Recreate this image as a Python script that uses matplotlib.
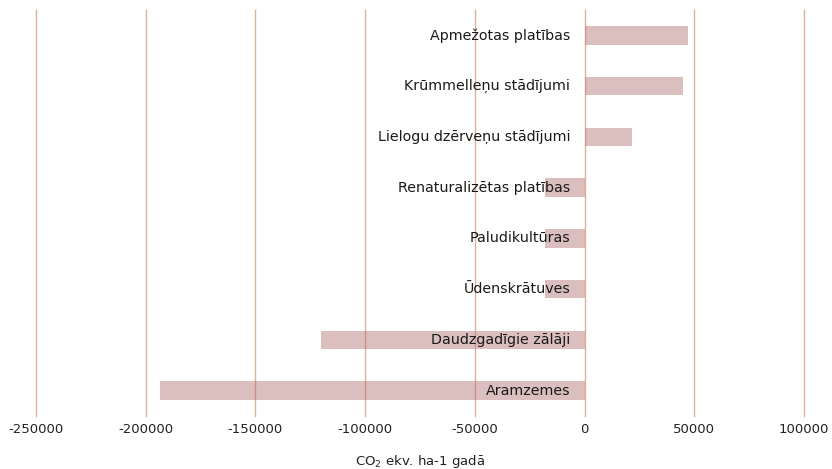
import matplotlib.pyplot as plt

# Data
categories = ['Apmežotas platības', 'Krūmmelleņu stādījumi', 'Lielogu dzērveņu stādījumi',
              'Renaturalizētas platības', 'Paludikultūras', 'Ūdenskrātuves',
              'Daudzgadīgie zālāji', 'Aramzemes']
values = [47000, 45000, 21500, -18000, -18000, -18000, -120000, -193500]
xticks = [-250000, -200000, -150000, -100000, -50000, 0, 50000, 100000]

plt.rcParams['font.family'] = ['DejaVu Sans']

fig = plt.figure(figsize=(8.32, 4.69), dpi=100)
ax = fig.add_axes([36 / 832, 1 - 416 / 469, (804 - 36) / 832, (416 - 10) / 469])

ypos = list(range(len(categories)))
ax.barh(ypos, values, height=0.36, color='#b07070', alpha=0.45, zorder=2)

for y, name in zip(ypos, categories):
    ax.text(-6500, y, name, ha='right', va='center', fontsize=10.3, color='#1a1a1a', zorder=3)

ax.set_xlim(-250000, 100000)
ax.set_ylim(len(categories) - 0.5, -0.5)
ax.set_xticks(xticks)
ax.set_xticklabels([str(t) for t in xticks], fontsize=9.5, color='#222222')
ax.set_yticks([])
ax.tick_params(axis='x', length=0, pad=5)
for s in ax.spines.values():
    s.set_visible(False)
ax.grid(axis='x', color='#e2ae9c', linewidth=1.0, zorder=1)
for gl in ax.get_xgridlines():
    gl.set_clip_on(False)
ax.set_axisbelow(True)
ax.set_xlabel('CO$_2$ ekv. ha-1 gadā', fontsize=9.5, color='#222222', labelpad=12)

fig.savefig('out.png', dpi=100)
